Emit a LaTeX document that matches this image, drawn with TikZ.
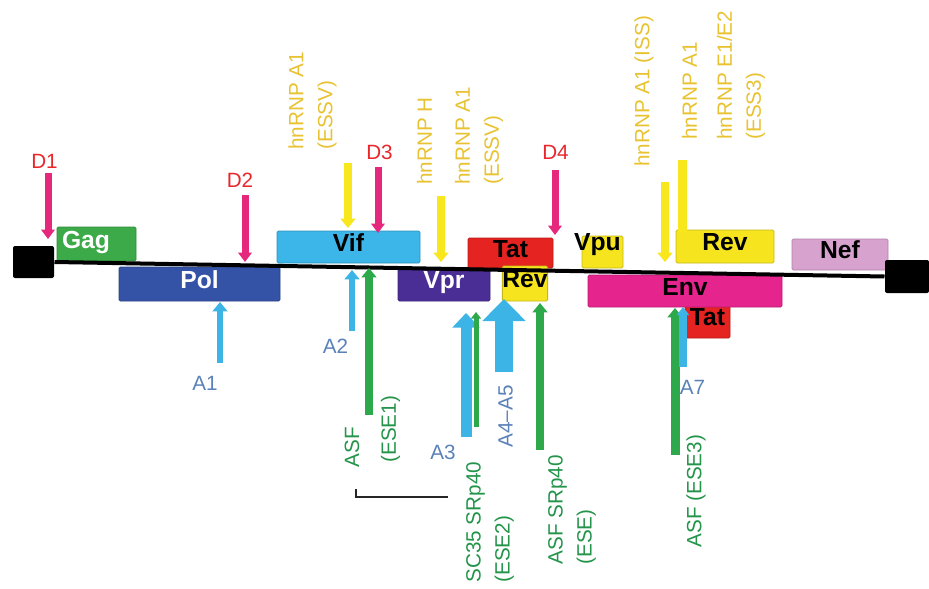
\documentclass[tikz,border=0pt]{standalone}
\usepackage{fontspec}
\setmainfont{Liberation Sans}
\usetikzlibrary{arrows.meta}

\definecolor{gagc}{RGB}{61,170,74}
\definecolor{polc}{RGB}{53,83,166}
\definecolor{vifc}{RGB}{60,182,232}
\definecolor{vprc}{RGB}{75,45,150}
\definecolor{tatc}{RGB}{229,35,32}
\definecolor{revc}{RGB}{246,229,30}
\definecolor{nefc}{RGB}{216,162,207}
\definecolor{envc}{RGB}{230,36,142}
\definecolor{dpink}{RGB}{230,40,125}
\definecolor{dred}{RGB}{232,38,44}
\definecolor{yarr}{RGB}{248,231,28}
\definecolor{ylab}{RGB}{232,194,48}
\definecolor{barr}{RGB}{60,180,230}
\definecolor{blab}{RGB}{91,130,184}
\definecolor{garr}{RGB}{45,168,74}
\definecolor{glab}{RGB}{35,148,74}

\tikzset{every picture/.style={line width=0.75pt}}
\tikzset{
	boxsize/.style 2 args={minimum width=#1*0.75pt, minimum height=#2*0.75pt},
	gene/.style={draw=#1!80!black, fill=#1, line width=0.6pt, rounded corners=1pt, inner sep=0pt,
		font=\fontsize{18.5}{22}\selectfont\bfseries, text height=14pt, text depth=7.5pt},
	genetext/.style={inner sep=0pt, font=\fontsize{18.5}{22}\selectfont\bfseries, text height=14pt, text depth=7.5pt},
	ltrbox/.style={fill=black, rounded corners=1.5pt, inner sep=0pt},
	genome/.style={line width=3pt, draw=black},
	lab/.style={inner sep=0pt, font=\fontsize{15.5}{21.75}\selectfont},
	vlab/.style={lab, rotate=90, anchor=west, align=left},
	darrow/.style={draw=dpink, line width=5.25pt, -{Triangle[width=10pt,length=7pt]}},
	yarrow/.style={draw=yarr, line width=5.5pt, -{Triangle[width=11pt,length=7pt]}},
	barrow/.style={draw=barr, line width=5pt, -{Triangle[width=11pt,length=7pt]}},
	garrow/.style={draw=garr, line width=5.5pt, -{Triangle[width=11pt,length=7pt]}},
	bracket/.style={draw=black!85, line width=1.1pt}
}

\begin{document}
\begin{tikzpicture}[x=0.75pt,y=0.75pt,yscale=-1,xscale=1]
	\useasboundingbox (0,0) rectangle (929,589);

	%Shape: Rectangle [genes]
	\node[gene=gagc, text=white, boxsize={79}{34}, text width=51.75pt, inner xsep=3.75pt, align=left] (gag) at (96.5,244) {Gag};
	\node[gene=polc, text=white, boxsize={161}{34}] (pol) at (199.5,284) {Pol};
	\node[gene=vifc, boxsize={143}{32}] (vif) at (348.5,247) {Vif};
	\node[gene=vprc, text=white, boxsize={92}{33}] (vpr) at (444,284.5) {Vpr};
	\node[gene=tatc, boxsize={85}{30}] (tat1) at (510.5,253) {Tat};
	\node[gene=revc, boxsize={44}{35}] (rev1) at (525,283.5) {Rev};
	\node[gene=revc, boxsize={41}{32}] (vpu) at (602.5,252) {};
	\node[genetext] (vpulab) at (597.5,245.7) {Vpu};
	\node[gene=tatc, boxsize={45}{33}] (tat2) at (707.5,321.5) {Tat};
	\node[gene=envc, boxsize={194}{32}] (env) at (685,291) {Env};
	\node[gene=revc, boxsize={98}{33}] (rev2) at (725,246.5) {Rev};
	\node[gene=nefc, boxsize={96}{31}] (nef) at (840,254.5) {Nef};

	%Shape: Rectangle [LTRs] and genome line
	\node[ltrbox, boxsize={41}{32}] (ltr5) at (33.5,262) {};
	\node[ltrbox, boxsize={44}{33}] (ltr3) at (907,276.5) {};
	\draw[genome] (ltr5.east) -- (ltr3.west);

	%Straight Lines [arrow ends]
	\coordinate (d1s) at (48,173);   \coordinate (d1e) at (48,239);
	\coordinate (d2s) at (245,195);  \coordinate (d2e) at (245,262);
	\coordinate (d3s) at (378,167);  \coordinate (d3e) at (378,233);
	\coordinate (d4s) at (555,170);  \coordinate (d4e) at (555,235);
	\coordinate (y1s) at (348,163);  \coordinate (y1e) at (348,228);
	\coordinate (y2s) at (441,196);  \coordinate (y2e) at (441,262);
	\coordinate (y3s) at (665,182);  \coordinate (y3e) at (665,262);
	\coordinate (y4s) at (682,160);  \coordinate (y4e) at (682,232);
	\coordinate (a1s) at (220,363);  \coordinate (a1e) at (220,302);
	\coordinate (a2s) at (352,331);  \coordinate (a2e) at (352,270);
	\coordinate (a3s) at (466,437);  \coordinate (a3e) at (466,313);
	\coordinate (a45s) at (504,372); \coordinate (a45e) at (504,299);
	\coordinate (a7s) at (683,367);  \coordinate (a7e) at (683,307);
	\coordinate (g1s) at (369,415);  \coordinate (g1e) at (369,268);
	\coordinate (g2s) at (476,427);  \coordinate (g2e) at (476,312);
	\coordinate (g3s) at (540,450);  \coordinate (g3e) at (540,303);
	\coordinate (g4s) at (675,455);  \coordinate (g4e) at (675,308);

	%Straight Lines [donors]
	\draw[darrow] (d1s) -- (d1e);
	\draw[darrow] (d2s) -- (d2e);
	\draw[darrow] (d3s) -- (d3e);
	\draw[darrow] (d4s) -- (d4e);
	%Straight Lines [silencers]
	\draw[yarrow] (y1s) -- (y1e);
	\draw[yarrow] (y2s) -- (y2e);
	\draw[yarrow] (y3s) -- (y3e);
	\draw[draw=yarr, line width=6.75pt] (y4s) -- (y4e);
	%Straight Lines [acceptors and enhancers]
	\draw[barrow] (a1s) -- (a1e);
	\draw[barrow] (a2s) -- (a2e);
	\draw[garrow] (g1s) -- (g1e);
	\draw[barrow, line width=8.25pt, -{Triangle[width=20pt,length=11pt]}] (a3s) -- (a3e);
	\draw[garrow, line width=3.75pt, -{Triangle[width=7.5pt,length=5pt]}] (g2s) -- (g2e);
	\draw[barrow, line width=14pt, -{Triangle[width=31.5pt,length=16.5pt]}] (a45s) -- (a45e);
	\draw[garrow] (g3s) -- (g3e);
	\draw[garrow, line width=6.75pt] (g4s) -- (g4e);
	\draw[barrow, line width=5.5pt, -{Triangle[width=9pt,length=6pt]}] (a7s) -- (a7e);

	%Straight Lines [bracket]
	\coordinate (br1) at (356,489);
	\coordinate (br2) at (356,497);
	\coordinate (br3) at (448,497);
	\draw[bracket] (br1) -- (br2) -- (br3);

	% Text Node
	\node[lab, text=dred] (d1lab) at (44.5,161) {D1};
	\node[lab, text=dred] (d2lab) at (240,180.5) {D2};
	\node[lab, text=dred] (d3lab) at (379.5,152) {D3};
	\node[lab, text=dred] (d4lab) at (555.5,152) {D4};
	% Text Node
	\node[vlab, text=ylab] (essv1) at (312.5,150) {hnRNP A1\\(ESSV)};
	\node[vlab, text=ylab] (hnrnph) at (424.5,185) {hnRNP H};
	\node[vlab, text=ylab] (essv2) at (479,185) {hnRNP A1\\(ESSV)};
	\node[vlab, text=ylab] (iss) at (644,167) {hnRNP A1 (ISS)};
	\node[vlab, text=ylab] (hnrnpa) at (689.5,140) {hnRNP A1};
	\node[vlab, text=ylab] (ess3) at (741,140) {hnRNP E1/E2\\(ESS3)};
	% Text Node
	\node[lab, text=blab] (a1lab) at (205,383.5) {A1};
	\node[lab, text=blab] (a2lab) at (335.5,346.5) {A2};
	\node[lab, text=blab] (a3lab) at (443,452.5) {A3};
	\node[vlab, text=blab] (a45lab) at (505.5,448) {A4--A5};
	\node[lab, text=blab] (a7lab) at (692.5,387.5) {A7};
	% Text Node
	\node[vlab, text=glab] (asflab) at (352,468) {ASF};
	\node[vlab, text=glab] (ese1lab) at (390.5,463) {(ESE1)};
	\node[vlab, text=glab] (ese2lab) at (490,583) {SC35 SRp40\\(ESE2)};
	\node[vlab, text=glab] (eselab) at (572,565) {ASF SRp40\\(ESE)};
	\node[vlab, text=glab] (ese3lab) at (696,548) {ASF (ESE3)};

\end{tikzpicture}
\end{document}
